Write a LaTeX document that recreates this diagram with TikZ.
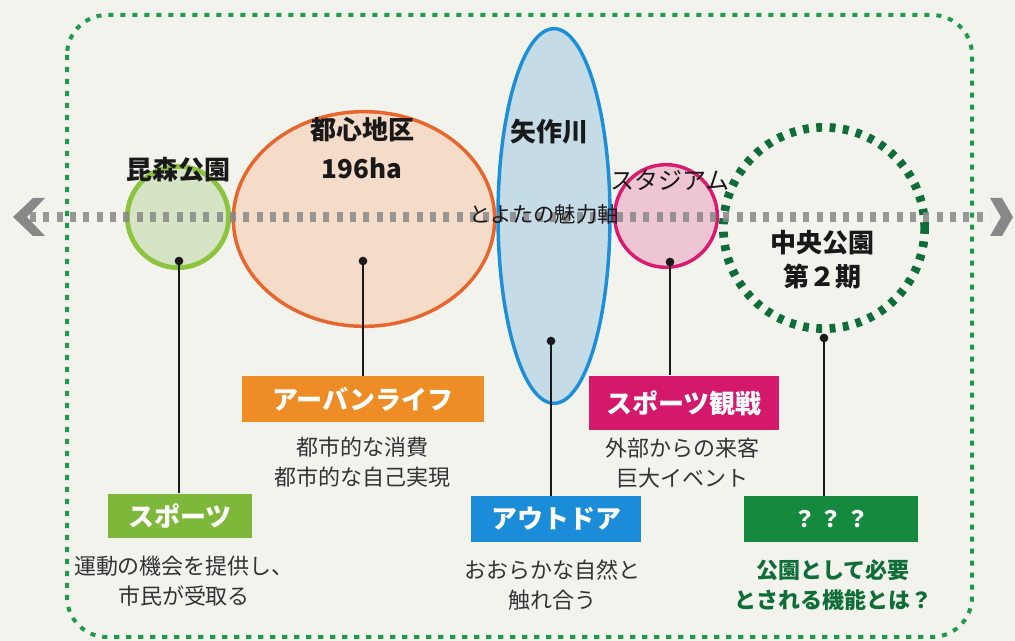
\documentclass[tikz,border=0pt]{standalone}
\usepackage{fontspec}
\setmainfont{Noto Sans CJK JP}
\usetikzlibrary{shapes.geometric}
\definecolor{bgc}{HTML}{F3F3EE}
\definecolor{bordergreen}{HTML}{1E9B4A}
\definecolor{axisgray}{HTML}{888888}
\definecolor{lgreen}{HTML}{8CC43E}
\definecolor{lgreenfill}{HTML}{D6E4C6}
\definecolor{orangeline}{HTML}{E8662E}
\definecolor{orangefill}{HTML}{F5DCC9}
\definecolor{blueline}{HTML}{1D8FD9}
\definecolor{bluefill}{HTML}{C5DCE7}
\definecolor{pinkline}{HTML}{D81B6E}
\definecolor{pinkfill}{HTML}{EDC5D3}
\definecolor{dkgreen}{HTML}{0F6E38}
\definecolor{boxgreen}{HTML}{7DB83B}
\definecolor{boxorange}{HTML}{EE8C25}
\definecolor{boxpink}{HTML}{D4186C}
\definecolor{boxblue}{HTML}{1B8DD8}
\definecolor{boxdkgreen}{HTML}{158A3F}
\definecolor{desctext}{HTML}{333333}
\begin{document}
\begin{tikzpicture}[x=0.75pt,y=-0.75pt,
  title/.style={font=\fontsize{19.5pt}{23pt}\selectfont\bfseries, inner sep=0pt, text=black!90, align=center},
  desc/.style={font=\fontsize{16.5pt}{22.5pt}\selectfont, align=center, inner sep=0pt, text=desctext},
  tagbox/.style={font=\fontsize{19.5pt}{23pt}\selectfont\bfseries, text=white, inner sep=0pt},
  dotmark/.style={circle, fill=black!90, inner sep=0pt, minimum size=6.5pt},
  link/.style={line width=1.1pt, black!90},
  chev/.style={fill=axisgray, draw=none}]
\useasboundingbox (0,0) rectangle (1015,641);
\fill[bgc] (0,0) rectangle (1015,641);

% outer dotted frame
\draw[bordergreen, line width=3pt, dash pattern=on 3.8pt off 5.2pt, rounded corners=30pt]
  (67,15) rectangle (972,637);

% areas
\node[circle, draw=lgreen, fill=lgreenfill, line width=3.6pt, minimum size=76pt, inner sep=0pt] (konmori) at (178,217) {};
\node[ellipse, draw=orangeline, fill=orangefill, line width=2.6pt, minimum width=196pt, minimum height=161pt, inner sep=0pt] (toshin) at (364,219) {};
\node[ellipse, draw=blueline, fill=bluefill, line width=2.6pt, minimum width=84pt, minimum height=281pt, inner sep=0pt] (yahagi) at (554,216) {};
\node[circle, draw=pinkline, fill=pinkfill, line width=2.6pt, minimum size=77pt, inner sep=0pt] (stadium) at (666,216) {};
\node[circle, draw=dkgreen, line width=6.5pt, dash pattern=on 4.4pt off 5.6pt, minimum size=151pt, inner sep=0pt] (chuo) at (824,228) {};

% axis
\draw[axisgray, opacity=0.85, line width=7.5pt, dash pattern=on 4.6pt off 5.4pt] (30,217) -- (990,217);
\fill[chev] (45,198) -- (33,198) -- (13,217) -- (33,236) -- (45,236) -- (27,217) -- cycle;
\fill[chev] (990,198) -- (1002,198) -- (1013,217) -- (1002,236) -- (990,236) -- (1001,217) -- cycle;

% titles
\node[title] (t1) at (178,170) {昆森公園};
\node[title] (t2) at (362,130) {都心地区};
\node[title] (t2b) at (362,168) {196ha};
\node[title] (t3) at (549,132) {矢作川};
\node[font=\fontsize{18pt}{22pt}\selectfont, inner sep=0pt, text=black!90] (t4) at (670,180) {スタジアム};
\node[font=\fontsize{16pt}{20pt}\selectfont, inner sep=0pt, text=black!90] (axislabel) at (544,214) {とよたの魅力軸};
\node[title] (t5) at (822,243) {中央公園};
\node[title] (t5b) at (822,277) {第２期};

% anchor dots
\node[dotmark] (d1) at (179,261) {};
\node[dotmark] (d2) at (363,261) {};
\node[dotmark] (d3) at (551,341) {};
\node[dotmark] (d4) at (670,262) {};
\node[dotmark] (d5) at (824,338) {};

% tag boxes
\node[tagbox, fill=boxgreen, minimum width=108pt, minimum height=33.5pt] (b1) at (180,516) {スポーツ};
\node[tagbox, fill=boxorange, minimum width=181pt, minimum height=34pt] (b2) at (363,399) {アーバンライフ};
\node[tagbox, fill=boxblue, minimum width=128pt, minimum height=34pt] (b3) at (556,519) {アウトドア};
\node[tagbox, fill=boxpink, minimum width=142pt, minimum height=41pt] (b4) at (684,403) {スポーツ観戦};
\node[tagbox, fill=boxdkgreen, minimum width=130pt, minimum height=34pt, font=\fontsize{17pt}{20pt}\selectfont\bfseries] (b5) at (831,519) {？\,？\,？};

% connectors (vertical)
\draw[link] (d1.center) -- (d1.center |- b1.north);
\draw[link] (d2.center) -- (d2.center |- b2.north);
\draw[link] (d3.center) -- (d3.center |- b3.north);
\draw[link] (d4.center) -- (d4.center |- b4.north);
\draw[link] (d5.center) -- (d5.center |- b5.north);

% descriptions
\node[desc] (e1) at (184,581) {運動の機会を提供し、\\市民が受取る};
\node[desc] (e2) at (362,462) {都市的な消費\\都市的な自己実現};
\node[desc] (e3) at (552,585) {おおらかな自然と\\触れ合う};
\node[desc] (e4) at (682,463) {外部からの来客\\巨大イベント};
\node[desc, font=\fontsize{16.5pt}{23pt}\selectfont\bfseries, text=dkgreen] (e5) at (833,585) {公園として必要\\とされる機能とは？};
\end{tikzpicture}
\end{document}
